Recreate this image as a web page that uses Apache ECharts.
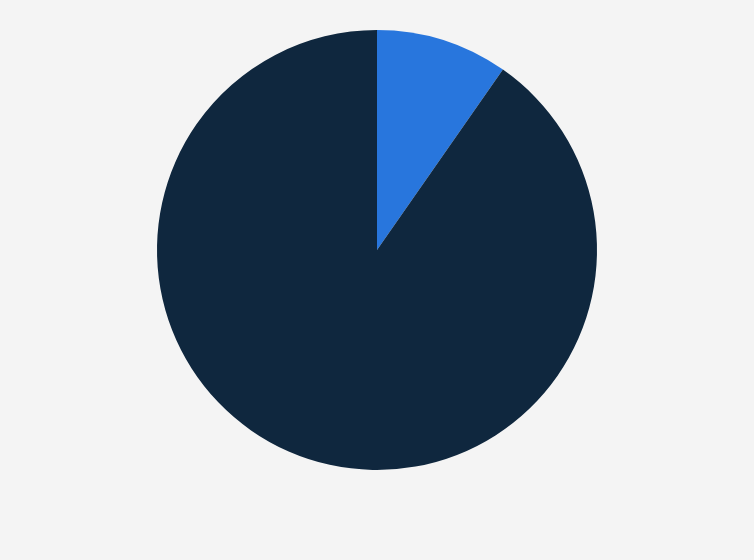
<!DOCTYPE html>
<html>
<head>
<meta charset="utf-8">
<script src="https://cdn.jsdelivr.net/npm/echarts@6/dist/echarts.min.js"></script>
<style>
    html, body { margin: 0; padding: 0; background: #f4f4f4; }
    #chart { width: 754px; height: 560px; }
</style>
</head>
<body>
<div id="chart"></div>
<script>
let sliceNames = ['Yes', 'No'];
let sliceValues = [9.7, 90.3];
let sliceColors = ['#2876dd', '#0f273e'];

let chart = echarts.init(document.getElementById('chart'));
let pieData = [];
for (let i = 0; i < sliceNames.length; i++) {
    pieData.push({
        name: sliceNames[i],
        value: sliceValues[i],
        itemStyle: { color: sliceColors[i] }
    });
}
chart.setOption({
    backgroundColor: '#f4f4f4',
    animation: false,
    series: [{
        type: 'pie',
        center: [377, 250],
        radius: 220,
        startAngle: 90,
        clockwise: true,
        label: { show: false },
        labelLine: { show: false },
        itemStyle: { borderWidth: 0 },
        emphasis: { disabled: true },
        data: pieData
    }]
});
</script>
</body>
</html>
